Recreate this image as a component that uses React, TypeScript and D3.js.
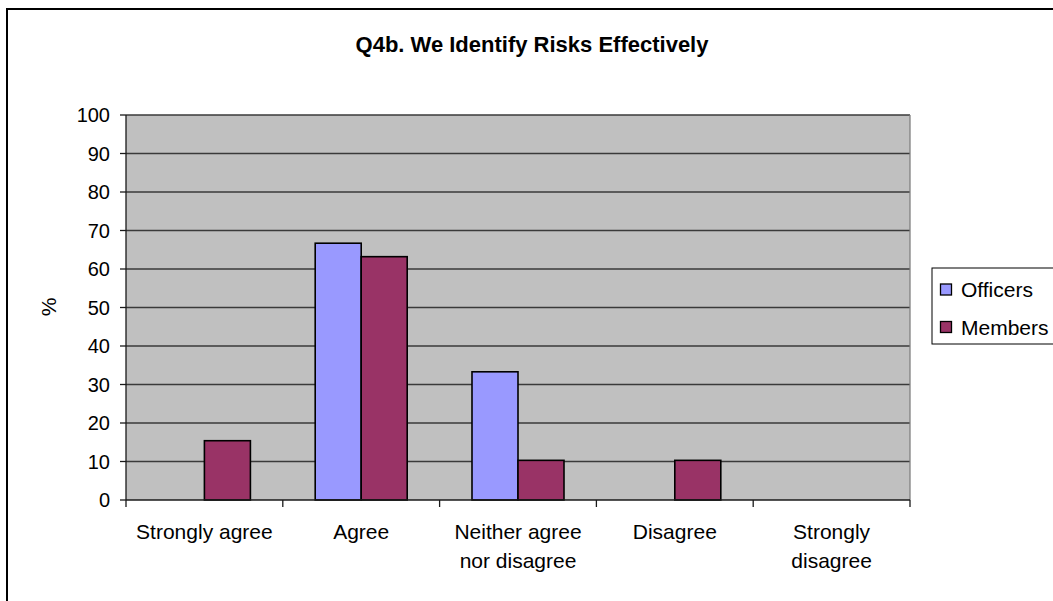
import React from "react";
import * as d3 from "d3";

const title = "Q4b. We Identify Risks Effectively";
const categories = [
  ["Strongly agree"],
  ["Agree"],
  ["Neither agree", "nor disagree"],
  ["Disagree"],
  ["Strongly", "disagree"],
];
const seriesNames = ["Officers", "Members"];
const officers = [0, 66.7, 33.3, 0, 0];
const members = [15.4, 63.2, 10.3, 10.3, 0];
const seriesColors = ["#9999FF", "#993366"];
const yTicks = [0, 10, 20, 30, 40, 50, 60, 70, 80, 90, 100];

const W = 1053;
const H = 601;
const FONT = "'Liberation Sans', Arial, sans-serif";

export default function App() {
  const plot = { left: 126, right: 910, top: 115, bottom: 500 };
  const keys = categories.map((c) => c.join(" "));
  const x = d3.scaleBand<string>().domain(keys).range([plot.left, plot.right]).padding(0);
  const y = d3.scaleLinear().domain([0, 100]).range([plot.bottom, plot.top]);
  const barW = 46;
  const inner = d3.scaleBand<string>().domain(seriesNames).range([-barW, barW]).padding(0);
  const seriesValues = [officers, members];

  return (
    <svg
      width={W}
      height={H}
      style={{ position: "absolute", left: 0, top: 0, background: "#fff" }}
      fontFamily={FONT}
    >
      {/* chart frame */}
      <rect x={7} y={9} width={1100} height={700} fill="#fff" stroke="#000" strokeWidth={2} />

      <text x={532} y={52} textAnchor="middle" fontSize={22} fontWeight="bold" fill="#000">
        {title}
      </text>

      {/* plot background */}
      <rect x={plot.left} y={plot.top} width={plot.right - plot.left} height={plot.bottom - plot.top} fill="#C0C0C0" />

      {/* gridlines */}
      {yTicks.filter((t) => t > 0).map((t) => (
        <line key={t} x1={plot.left} x2={plot.right} y1={y(t)} y2={y(t)} stroke="#3a3a3a" strokeWidth={1.3} />
      ))}
      <line x1={plot.right} x2={plot.right} y1={plot.top} y2={plot.bottom} stroke="#808080" strokeWidth={1.3} />

      {/* bars */}
      {seriesNames.map((s, si) =>
        keys.map((k, ci) => {
          const v = seriesValues[si][ci];
          if (v <= 0) return null;
          const cx = (x(k) as number) + x.bandwidth() / 2;
          const bx = cx + (inner(s) as number);
          return (
            <rect
              key={s + k}
              x={bx}
              y={y(v)}
              width={inner.bandwidth()}
              height={y(0) - y(v)}
              fill={seriesColors[si]}
              stroke="#000"
              strokeWidth={1.6}
            />
          );
        })
      )}

      {/* axes */}
      <line x1={plot.left} x2={plot.left} y1={plot.top} y2={plot.bottom} stroke="#1a1a1a" strokeWidth={1.3} />
      <line x1={plot.left} x2={plot.right} y1={plot.bottom} y2={plot.bottom} stroke="#1a1a1a" strokeWidth={1.3} />
      {yTicks.map((t) => (
        <g key={t}>
          <line x1={plot.left - 6} x2={plot.left} y1={y(t)} y2={y(t)} stroke="#1a1a1a" strokeWidth={1.3} />
          <text x={110} y={y(t)} dy="0.36em" textAnchor="end" fontSize={20} fill="#000">
            {t}
          </text>
        </g>
      ))}
      {keys.map((k) => (
        <line key={k} x1={x(k) as number} x2={x(k) as number} y1={plot.bottom} y2={plot.bottom + 7} stroke="#1a1a1a" strokeWidth={1.3} />
      ))}
      <line x1={plot.right} x2={plot.right} y1={plot.bottom} y2={plot.bottom + 7} stroke="#1a1a1a" strokeWidth={1.3} />

      {/* category labels */}
      {categories.map((lines, i) => {
        const cx = (x(keys[i]) as number) + x.bandwidth() / 2;
        return (
          <text key={keys[i]} textAnchor="middle" fontSize={21} fill="#000">
            {lines.map((ln, j) => (
              <tspan key={j} x={cx} y={539 + j * 29}>
                {ln}
              </tspan>
            ))}
          </text>
        );
      })}

      <text transform="translate(56,307) rotate(-90)" textAnchor="middle" fontSize={21} fill="#000">
        %
      </text>

      {/* legend */}
      <rect x={932} y={268} width={140} height={76} fill="#fff" stroke="#000" strokeWidth={1} />
      {seriesNames.map((s, i) => {
        const cy = 289.5 + i * 37.5;
        return (
          <g key={s}>
            <rect x={940.5} y={cy - 5.5} width={11} height={11} fill={seriesColors[i]} stroke="#000" strokeWidth={1.3} />
            <text x={961} y={cy} dy="0.36em" fontSize={21} fill="#000">
              {s}
            </text>
          </g>
        );
      })}
    </svg>
  );
}
